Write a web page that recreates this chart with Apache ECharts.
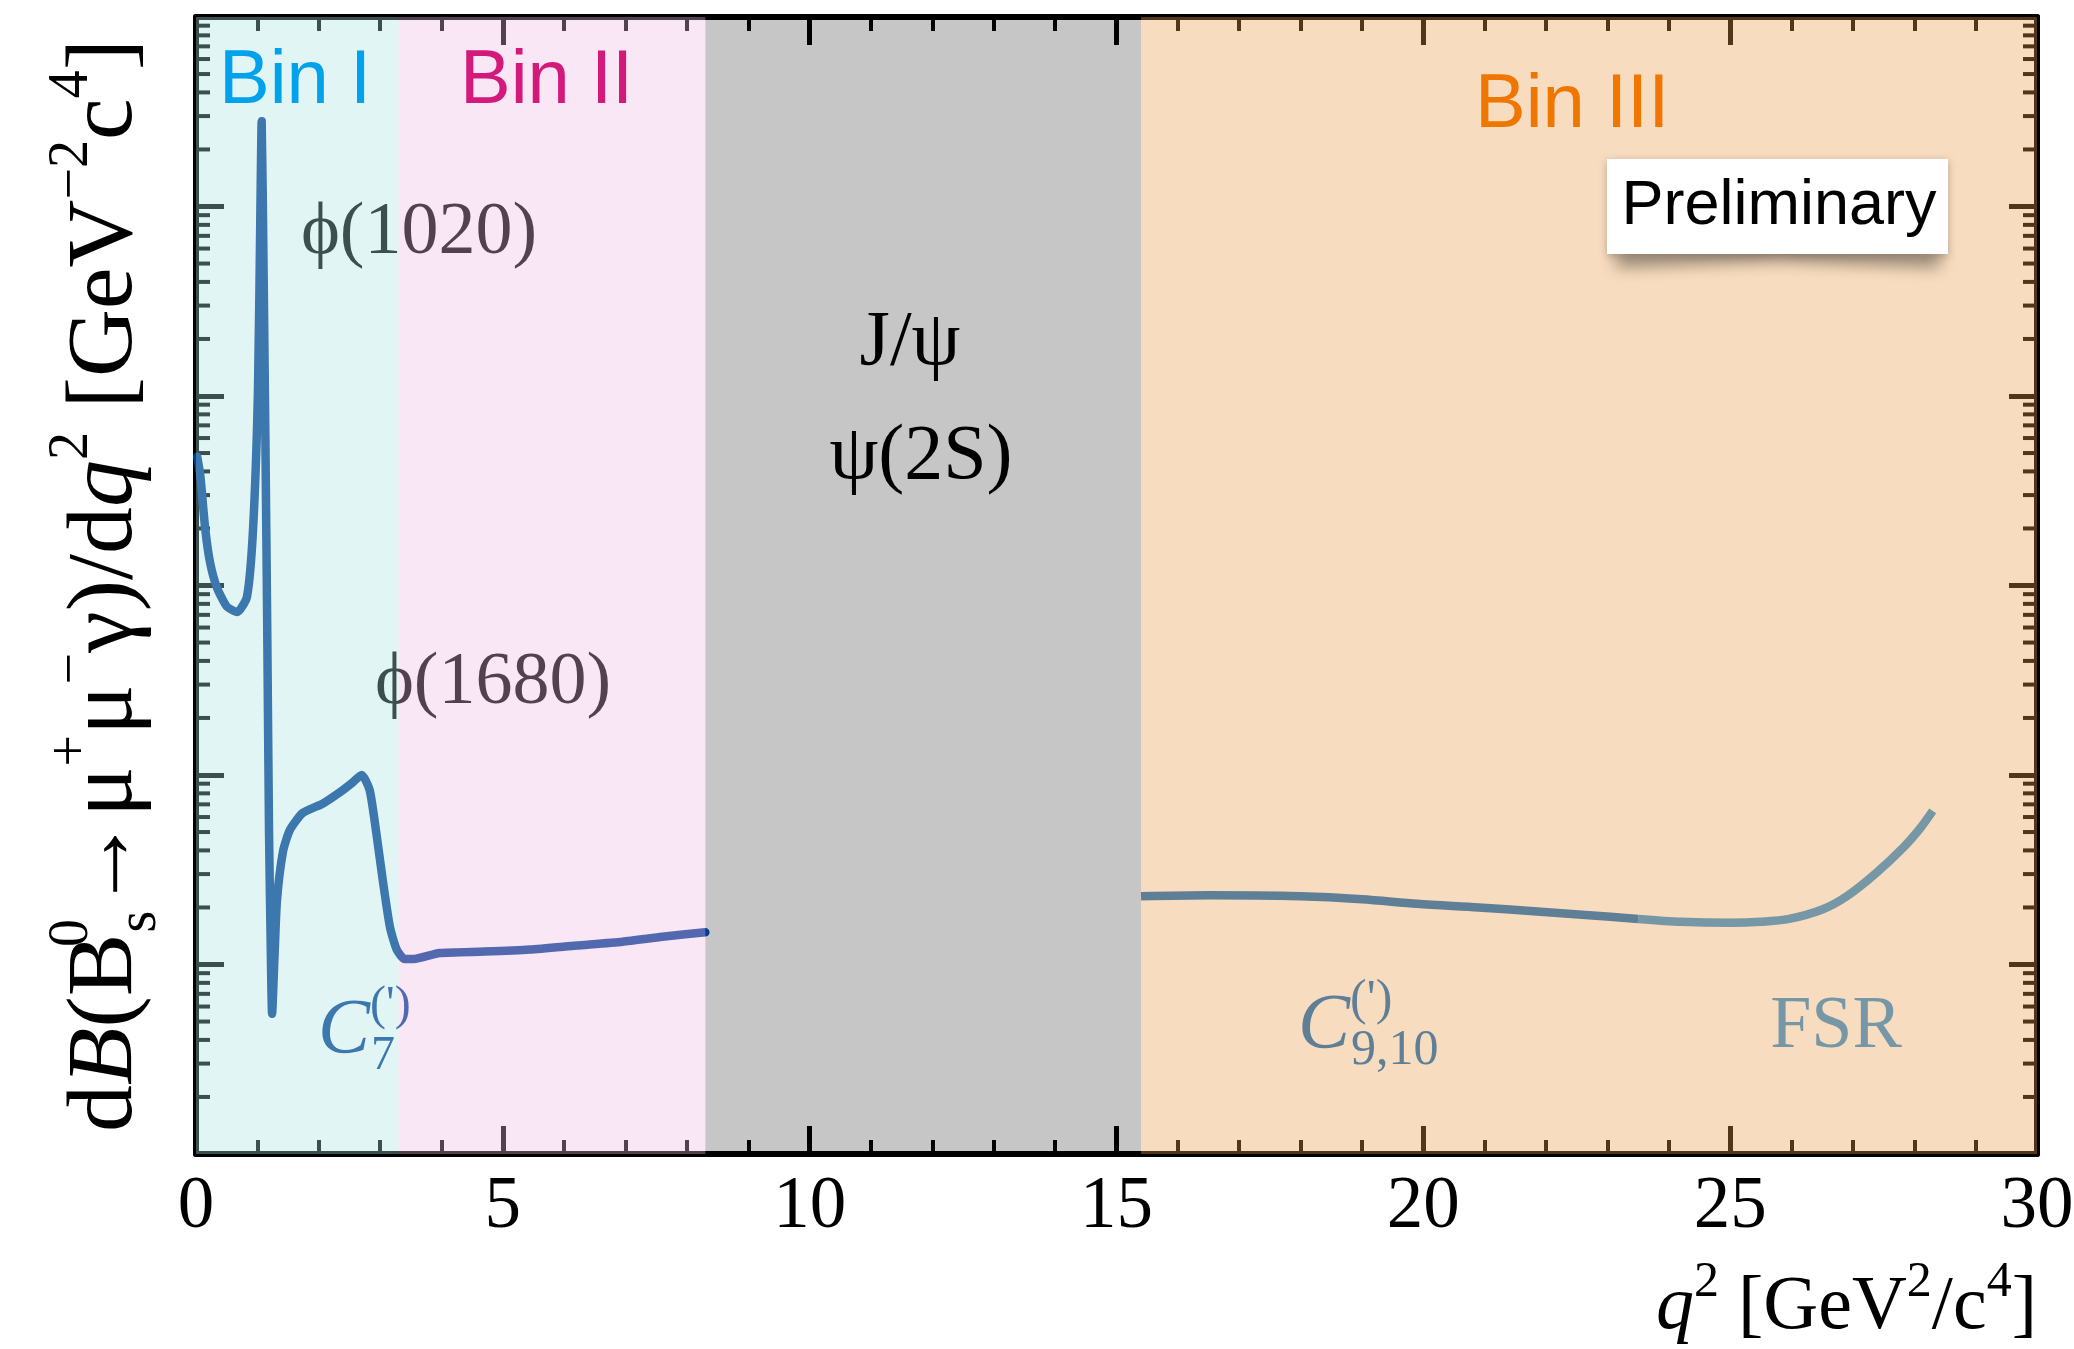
<!DOCTYPE html>
<html>
<head>
<meta charset="utf-8">
<script src="https://cdn.jsdelivr.net/npm/echarts/dist/echarts.min.js"></script>
<style>
html,body{margin:0;padding:0;background:#ffffff;}
#chart{width:2074px;height:1349px;}
</style>
</head>
<body>
<div id="chart"></div>
<script>
// ---------------- data (y in arbitrary units on a 6-decade log scale) ----------------
const q2Low = [0.02,0.07,0.15,0.23,0.34,0.50,0.67,0.83,0.93,1.01,1.05,1.07,1.10,1.13,1.16,1.19,1.22,1.24,1.28,1.32,1.42,1.53,1.74,2.07,2.35,2.55,2.70,2.83,2.94,3.05,3.16,3.27,3.40,3.55,3.97,4.70,5.44,6.20,6.95,7.60,8.30];
const dBLow  = [4786,3802,1995,1318,977,776,724,871,1995,10715,100000,281800,50120,6310,631,50.1,11.2,5.50,11.2,21.9,39.8,51.3,63.1,70.8,81.3,91.2,100,83.2,49.0,26.9,15.8,12.0,10.7,10.7,11.5,11.7,12.0,12.6,13.2,14.0,14.8];
const q2High = [15.4,16.5,18.0,19.0,19.9,20.9,21.8,22.7,23.5,24.2,25.0,25.5,25.96,26.5,26.9,27.37,27.83,28.1,28.3];
const dBHigh = [22.9,23.2,22.9,22.1,20.9,20.0,19.1,18.2,17.4,16.8,16.6,16.8,17.4,19.5,22.9,30.2,41.7,52.5,64.6];
const fsrSplit = 23.5;                       // q2 where the curve changes shade
const binRanges = [[0,3.3],[3.3,8.3],[15.4,30]];   // Bin I, Bin II, Bin III
const vetoRange = [[8.3,15.4]];              // J/psi, psi(2S) region
const xTickLabels = [0,5,10,15,20,25,30];
const yMin = 1, yMax = 1e6;

// ---------------- styles ----------------
const SERIF = '"Liberation Serif","Times New Roman","DejaVu Serif",serif';
const SANS = '"Liberation Sans",Arial,Helvetica,sans-serif';
const binOverlayColors = ['rgba(172,226,226,0.35)','rgba(238,186,229,0.35)','rgba(232,155,72,0.35)'];
const vetoColor = '#c6c6c6';
const LW = 8.5;

const lowData = q2Low.map((x,i)=>[x,dBLow[i]]);
const highData = q2High.map((x,i)=>[x,dBHigh[i]]);
const highA = highData.filter(d=>d[0]<=fsrSplit);
const highB = highData.filter(d=>d[0]>=fsrSplit);

// log-axis minor tick positions (2..9 x 10^n)
const minorY = [];
for (let n=0;n<6;n++){ for (let k=2;k<=9;k++){ minorY.push([0,k*Math.pow(10,n)]); } }

function bandRenderer(colors){
  return function(params, api){
    const cs = params.coordSys;
    const p0 = api.coord([api.value(0), 10]);
    const p1 = api.coord([api.value(1), 10]);
    return {type:'rect', shape:{x:p0[0], y:cs.y, width:p1[0]-p0[0], height:cs.height}, style:{fill:colors[params.dataIndex % colors.length]}};
  };
}
function minorTickRenderer(params, api){
  const cs = params.coordSys;
  const y = api.coord([0, api.value(1)])[1];
  const st = {stroke:'#000', lineWidth:4};
  return {type:'group', children:[
    {type:'line', shape:{x1:cs.x, y1:y, x2:cs.x+14, y2:y}, style:st},
    {type:'line', shape:{x1:cs.x+cs.width-14, y1:y, x2:cs.x+cs.width, y2:y}, style:st}
  ]};
}

const xAxisBase = {
  type:'value', min:0, max:30, interval:5,
  axisLine:{show:true, onZero:false, lineStyle:{color:'#000', width:6}},
  axisTick:{show:true, inside:true, length:28, lineStyle:{color:'#000', width:5}},
  minorTick:{show:true, splitNumber:5, length:14, lineStyle:{color:'#000', width:4}},
  splitLine:{show:false}, minorSplitLine:{show:false}, z:3
};
const yAxisBase = {
  type:'log', logBase:10, min:yMin, max:yMax,
  axisLine:{show:true, onZero:false, lineStyle:{color:'#000', width:6}},
  axisTick:{show:true, inside:true, length:28, lineStyle:{color:'#000', width:5}},
  axisLabel:{show:false},
  splitLine:{show:false}, z:3
};

const chart = echarts.init(document.getElementById('chart'), null, {renderer:'canvas', width:2074, height:1349});

const option = {
  animation:false,
  backgroundColor:'#ffffff',
  grid:{left:196, right:37, top:17, bottom:195, containLabel:false, outerBoundsMode:'none'},
  xAxis:[
    Object.assign({}, xAxisBase, {
      position:'bottom',
      axisLabel:{show:true, fontFamily:SERIF, fontSize:73, color:'#000', margin:17, lineHeight:73,
        formatter:function(v){ return xTickLabels.indexOf(v) >= 0 ? String(v) : ''; }},
      name:'{i|q}{sup|2}{n| [GeV}{sup|2}{n|/c}{sup|4}{n|]}',
      nameLocation:'end', nameGap:0, nameMoveOverlap:false,
      nameTextStyle:{align:'right', verticalAlign:'top', padding:[104,0,0,0],
        rich:{
          n:{fontFamily:SERIF, fontSize:76, lineHeight:100, color:'#000'},
          i:{fontFamily:SERIF, fontSize:76, lineHeight:100, fontStyle:'italic', color:'#000'},
          sup:{fontFamily:SERIF, fontSize:50, lineHeight:50, verticalAlign:'top', color:'#000'}
        }}
    }),
    Object.assign({}, xAxisBase, {position:'top', axisLabel:{show:false}})
  ],
  yAxis:[
    Object.assign({}, yAxisBase, {
      position:'left',
      name:'{n|d}{cal|B}{n|(B}{s0|0}{ss|s}{n|→μ}{sup|+}{n|μ}{sup|−}{n|γ)/d}{i|q}{sup|2}{n| [GeV}{sup|−2}{n|c}{sup|4}{n|]}',
      nameLocation:'middle', nameRotate:90, nameGap:28, nameMoveOverlap:false,
      nameTextStyle:{
        rich:{
          n:{fontFamily:SERIF, fontSize:94, lineHeight:124, color:'#000'},
          i:{fontFamily:SERIF, fontSize:94, lineHeight:124, fontStyle:'italic', color:'#000'},
          cal:{fontFamily:SERIF, fontSize:94, lineHeight:124, fontStyle:'italic', color:'#000'},
          sup:{fontFamily:SERIF, fontSize:56, lineHeight:64, verticalAlign:'top', color:'#000'},
          s0:{fontFamily:SERIF, fontSize:56, lineHeight:64, verticalAlign:'top', width:1, align:'left', color:'#000'},
          ss:{fontFamily:SERIF, fontSize:56, lineHeight:60, verticalAlign:'bottom', align:'left', color:'#000'}
        }}
    }),
    Object.assign({}, yAxisBase, {position:'right'})
  ],
  series:[
    {name:'veto', type:'custom', z:1, silent:true, data:vetoRange, encode:{x:[0,1]},
      renderItem:bandRenderer([vetoColor])},
    {name:'minorTicks', type:'custom', z:3, silent:true, data:minorY, encode:{x:0, y:1},
      renderItem:minorTickRenderer},
    {name:'low q2', type:'line', z:4, data:lowData, showSymbol:false, smooth:0.2,
      lineStyle:{color:'#003e92', width:LW, join:'round', cap:'round'}},
    {name:'high q2', type:'line', z:4, data:highA, showSymbol:false, smooth:0.3,
      lineStyle:{color:'#1670c2', width:LW, join:'round'}},
    {name:'FSR', type:'line', z:4, data:highB, showSymbol:false, smooth:0.3,
      lineStyle:{color:'#3997d9', width:LW, join:'round'}},
    {name:'bins', type:'custom', z:6, silent:true, data:binRanges, encode:{x:[0,1]},
      renderItem:bandRenderer(binOverlayColors)}
  ],
  graphic:[
    {type:'text', x:419, y:234, z:5, silent:true, style:{text:'ϕ(1020)', fontFamily:SERIF, fontSize:74, fill:'#000', align:'center', verticalAlign:'middle'}},
    {type:'text', x:493, y:684, z:5, silent:true, style:{text:'ϕ(1680)', fontFamily:SERIF, fontSize:74, fill:'#000', align:'center', verticalAlign:'middle'}},
    {type:'text', x:910, y:344, z:5, silent:true, style:{text:'J/ψ', fontFamily:SERIF, fontSize:78, fill:'#000', align:'center', verticalAlign:'middle'}},
    {type:'text', x:921, y:458, z:5, silent:true, style:{text:'ψ(2S)', fontFamily:SERIF, fontSize:78, fill:'#000', align:'center', verticalAlign:'middle'}},
    {type:'text', x:318, y:982, z:5, silent:true, style:{text:"{c|C}{s0|(')}{sub|7}", align:'left', verticalAlign:'top',
      rich:{c:{fontFamily:SERIF, fontSize:78, lineHeight:98, fontStyle:'italic', fill:'#003e92'},
            s0:{fontFamily:SERIF, fontSize:48, lineHeight:48, verticalAlign:'top', width:1, align:'left', fill:'#003e92'},
            sub:{fontFamily:SERIF, fontSize:48, lineHeight:48, verticalAlign:'bottom', align:'left', fill:'#003e92'}}}},
    {type:'text', x:1298, y:976, z:5, silent:true, style:{text:"{c|C}{s0|(')}{sub|9,10}", align:'left', verticalAlign:'top',
      rich:{c:{fontFamily:SERIF, fontSize:78, lineHeight:100, fontStyle:'italic', fill:'#1670c2'},
            s0:{fontFamily:SERIF, fontSize:50, lineHeight:50, verticalAlign:'top', width:1, align:'left', fill:'#1670c2'},
            sub:{fontFamily:SERIF, fontSize:50, lineHeight:50, verticalAlign:'bottom', align:'left', fill:'#1670c2'}}}},
    {type:'text', x:1836, y:1028, z:5, silent:true, style:{text:'FSR', fontFamily:SERIF, fontSize:74, fill:'#3997d9', align:'center', verticalAlign:'middle'}},
    {type:'text', x:219, y:82, z:10, silent:true, style:{text:'Bin I', fontFamily:SANS, fontSize:76, fill:'#00a2ec', align:'left', verticalAlign:'middle'}},
    {type:'text', x:460, y:82, z:10, silent:true, style:{text:'Bin II', fontFamily:SANS, fontSize:76, fill:'#d3197a', align:'left', verticalAlign:'middle'}},
    {type:'text', x:1475, y:106, z:10, silent:true, style:{text:'Bin III', fontFamily:SANS, fontSize:76, fill:'#ef7600', align:'left', verticalAlign:'middle'}},
    // curled-paper shadow under the "Preliminary" label (shapes hidden behind the label, only their blurred shadow shows)
    {type:'rect', x:1616, y:232, z:9, silent:true, originX:162, originY:7, rotation:0.04, shape:{width:162, height:14},
      style:{fill:'rgba(0,0,0,0.6)', shadowBlur:16, shadowColor:'rgba(0,0,0,0.75)', shadowOffsetY:14}},
    {type:'rect', x:1778, y:232, z:9, silent:true, originX:0, originY:7, rotation:-0.04, shape:{width:162, height:14},
      style:{fill:'rgba(0,0,0,0.6)', shadowBlur:16, shadowColor:'rgba(0,0,0,0.75)', shadowOffsetY:14}},
    {type:'rect', x:1607, y:159, z:10, silent:true, shape:{width:341, height:95},
      style:{fill:'#ffffff', shadowBlur:8, shadowOffsetY:2, shadowColor:'rgba(0,0,0,0.25)'}},
    {type:'text', x:1779, y:207, z:11, silent:true, style:{text:'Preliminary', fontFamily:SANS, fontSize:63, fill:'#000', align:'center', verticalAlign:'middle'}}
  ]
};
chart.setOption(option);
</script>
</body>
</html>
